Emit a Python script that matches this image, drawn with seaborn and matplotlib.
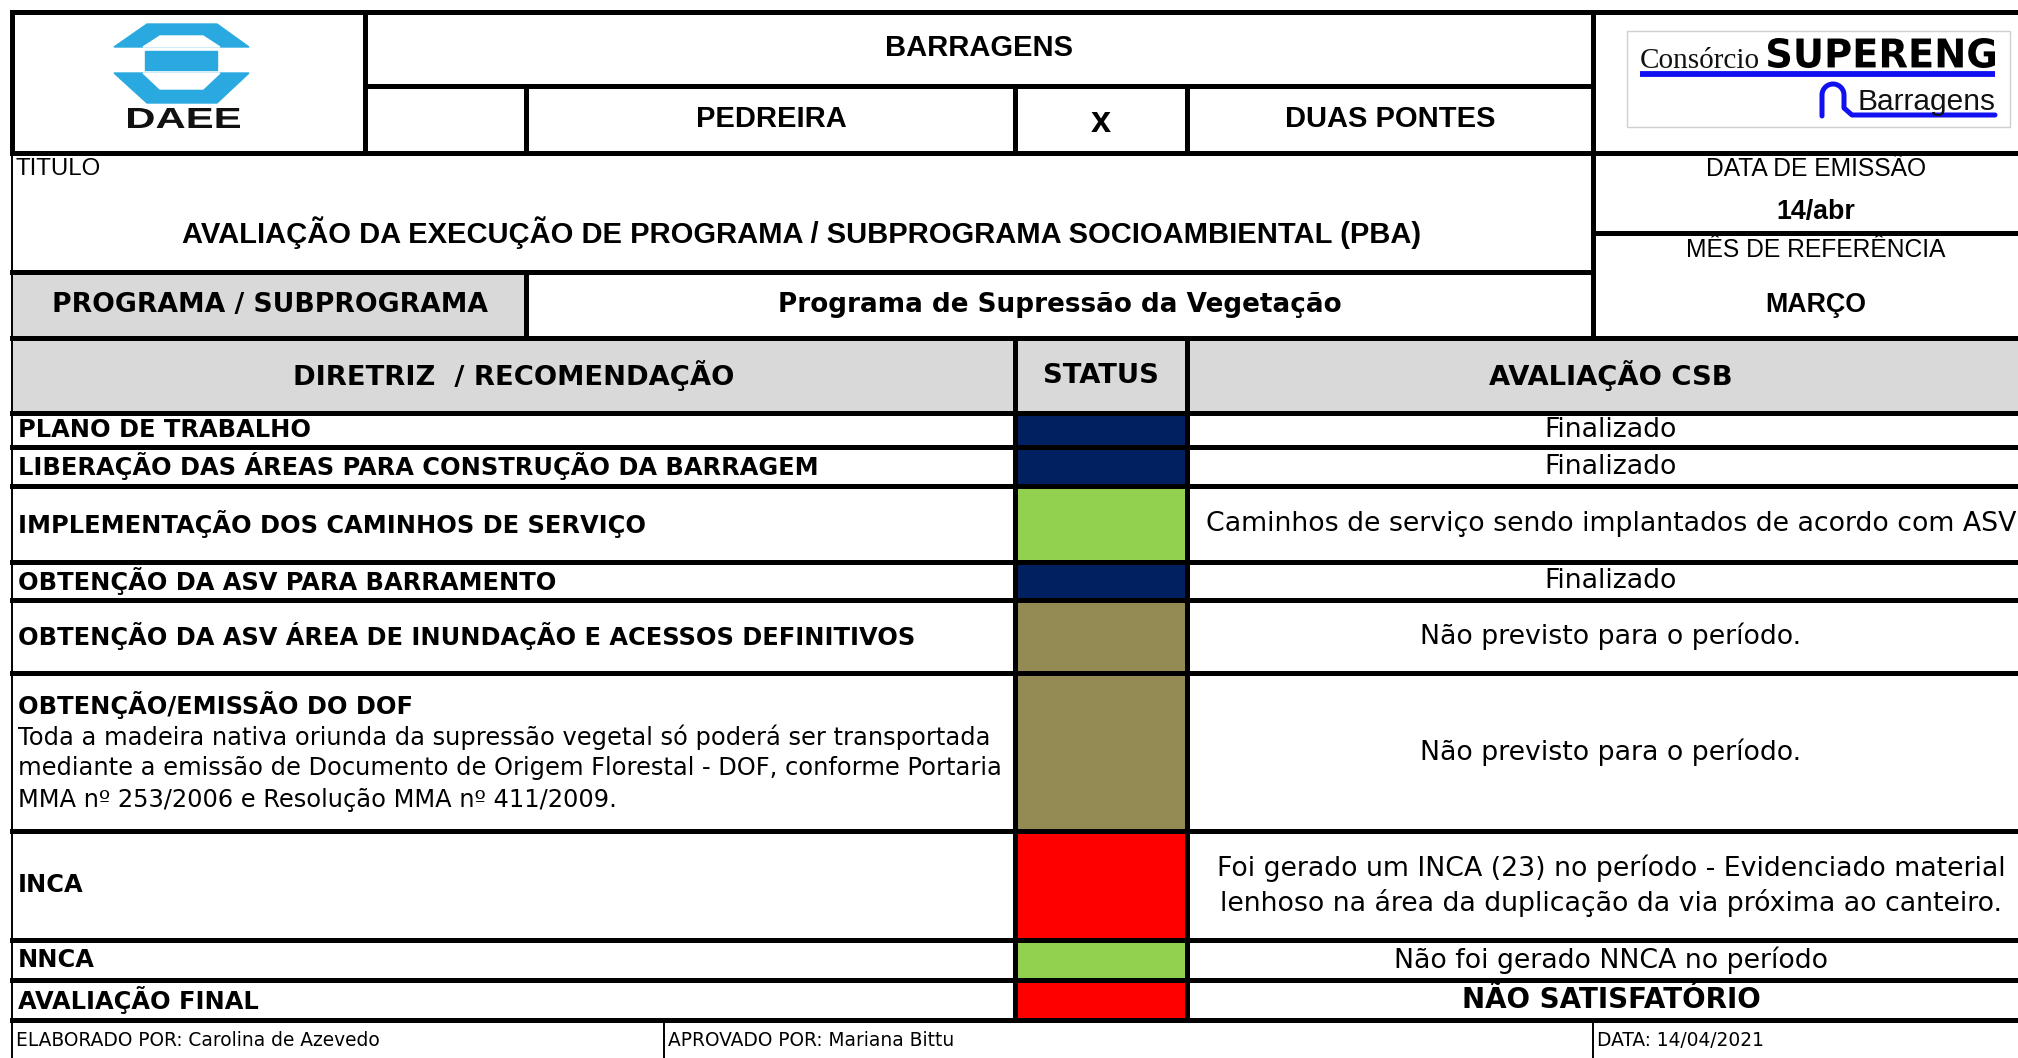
import numpy as np
import matplotlib
matplotlib.use("Agg")
import matplotlib.pyplot as plt
from matplotlib.patches import Polygon, Rectangle, PathPatch
from matplotlib.textpath import TextPath
from matplotlib.font_manager import FontProperties
from matplotlib.transforms import Affine2D
import seaborn as sns

# ---------------- data ----------------
row_labels = [
    "PLANO DE TRABALHO",
    "LIBERAÇÃO DAS ÁREAS PARA CONSTRUÇÃO DA BARRAGEM",
    "IMPLEMENTAÇÃO DOS CAMINHOS DE SERVIÇO",
    "OBTENÇÃO DA ASV PARA BARRAMENTO",
    "OBTENÇÃO DA ASV ÁREA DE INUNDAÇÃO E ACESSOS DEFINITIVOS",
    "OBTENÇÃO/EMISSÃO DO DOF",
    "INCA",
    "NNCA",
    "AVALIAÇÃO FINAL",
]
dof_note = [
    "Toda a madeira nativa oriunda da supressão vegetal só poderá ser transportada",
    "mediante a emissão de Documento de Origem Florestal - DOF, conforme Portaria",
    "MMA nº 253/2006 e Resolução MMA nº 411/2009.",
]
row_status = ["concluido", "concluido", "em_dia", "concluido", "nao_previsto",
              "nao_previsto", "critico", "em_dia", "critico"]
row_eval = [
    "Finalizado",
    "Finalizado",
    "Caminhos de serviço sendo implantados de acordo com ASV",
    "Finalizado",
    "Não previsto para o período.",
    "Não previsto para o período.",
    "Foi gerado um INCA (23) no período - Evidenciado material\nlenhoso na área da duplicação da via próxima ao canteiro.",
    "Não foi gerado NNCA no período",
    "NÃO SATISFATÓRIO",
]
status_colors = {"concluido": "#002060", "em_dia": "#92D050",
                 "nao_previsto": "#948A54", "critico": "#FF0000"}

header_top = "BARRAGENS"
header_left, header_right = "PEDREIRA", "DUAS PONTES"
titulo = "AVALIAÇÃO DA EXECUÇÃO DE PROGRAMA / SUBPROGRAMA SOCIOAMBIENTAL (PBA)"
programa = "Programa de Supressão da Vegetação"
data_emissao, mes_ref = "14/abr", "MARÇO"
footer = ["ELABORADO POR: Carolina de Azevedo", "APROVADO POR: Mariana Bittu", "DATA: 14/04/2021"]

# ---------------- layout (pixels) ----------------
W, H = 2018, 1058
X0, XLOGO, XA, XS0, XS1, XR, XEND = 12, 365, 526, 1015, 1187, 1593, 2035
row_edges = [413, 447, 486, 562, 600, 673, 831, 940, 980, 1020]
XEVAL = 1611
THICK, THIN = 3.6, 1.4

sns.set_theme(style="white")
plt.rcParams["font.family"] = ["DejaVu Sans"]
plt.rcParams["text.color"] = "black"

fig = plt.figure(figsize=(W / 100, H / 100), dpi=100)
ax = fig.add_axes([0, 0, 1, 1])
ax.set_xlim(0, W)
ax.set_ylim(H, 0)
ax.axis("off")

ARIAL = "Liberation Sans"

# gray fills
ax.add_patch(Rectangle((X0, 272), XA - X0, 66, color="#D9D9D9", zorder=0))
ax.add_patch(Rectangle((X0, 338), XEND - X0, 75, color="#D9D9D9", zorder=0))

# status cells
tops = np.array(row_edges[:-1])
heights = np.diff(row_edges)
ax.bar(x=(XS0 + XS1) / 2, height=heights, bottom=tops, width=XS1 - XS0,
       color=[status_colors[s] for s in row_status], align="center", zorder=1)


def hl(y, x0, x1, lw=THICK):
    ax.plot([x0, x1], [y, y], color="black", lw=lw, solid_capstyle="projecting", zorder=3)


def vl(x, y0, y1, lw=THICK):
    ax.plot([x, x], [y0, y1], color="black", lw=lw, solid_capstyle="projecting", zorder=3)


def boxed_text(s, x0, x1, y_top, y_base, prop, color):
    # stretch a text outline to fill a box (used for logo lettering)
    tp = TextPath((0, 0), s, size=1, prop=prop)
    ext = tp.get_extents()
    tr = (Affine2D().translate(-ext.x0, -ext.y0)
          .scale((x1 - x0) / ext.width, -(y_base - y_top) / ext.height)
          .translate(x0, y_base))
    ax.add_patch(PathPatch(tr.transform_path(tp), color=color, lw=0))


# grid lines
hl(12, X0, XEND)
hl(86, XLOGO, XR)
hl(153, X0, XEND)
hl(233, XR, XEND)
hl(272, X0, XR)
hl(338, X0, XEND)
for y in row_edges:
    hl(y, X0, XEND)
vl(X0, 12, 153)
vl(X0, 153, H, THIN)
vl(XLOGO, 12, 153)
vl(XA, 86, 153)
vl(XA, 272, 338)
for x in (XS0, XS1):
    vl(x, 86, 153)
    vl(x, 338, 1020)
vl(XR, 12, 338)
vl(664, 1020, H, THIN)
vl(XR, 1020, H, THIN)

# DAEE logo
blue = "#29A9E0"
ax.add_patch(Polygon([(147, 24), (217, 24), (249, 47), (114, 47)], color=blue))
ax.add_patch(Polygon([(160, 36), (203, 36), (220, 47), (143, 47)], color="white"))
ax.add_patch(Rectangle((145, 51), 72, 19, color=blue))
ax.add_patch(Polygon([(114, 73), (249, 73), (217, 103), (147, 103)], color=blue))
ax.add_patch(Polygon([(143, 73), (220, 73), (203, 89), (160, 89)], color="white"))
boxed_text("DAEE", 128, 240, 108, 128, FontProperties(family=ARIAL, weight="bold"), "#111111")

# SUPERENG logo
ax.add_patch(Rectangle((1627, 31), 383, 96, fill=False, edgecolor="#d0d0d0", lw=1))
ax.text(1640, 68, "Consórcio", ha="left", va="baseline", fontsize=21,
        family="Liberation Serif", color="#111111")
boxed_text("SUPERENG", 1768, 1995, 38, 68, FontProperties(family="DejaVu Sans", weight="bold"), "black")
ax.plot([1640, 1995], [74, 74], color="#1010F0", lw=4.2, solid_capstyle="butt")
ax.text(1995, 110, "Barragens", ha="right", va="baseline", fontsize=21.5,
        family=ARIAL, color="#111111")
t = np.linspace(np.pi, 0, 20)
arc_x = 1833 + 11 * np.cos(t)
arc_y = 95 - 11 * np.sin(t)
cx = np.concatenate([[1822], arc_x, [1844, 1852, 1995]])
cy = np.concatenate([[116], arc_y, [108, 115, 115]])
ax.plot(cx, cy, color="#1010F0", lw=3.6, solid_joinstyle="round")

# header texts
ax.text(979, 48, header_top, ha="center", va="center", fontsize=21, fontweight="bold", family=ARIAL)
ax.text(771, 119, header_left, ha="center", va="center", fontsize=21, fontweight="bold", family=ARIAL)
ax.text(1101, 123, "x", ha="center", va="center", fontsize=26, fontweight="bold", family=ARIAL)
ax.text(1390, 119, header_right, ha="center", va="center", fontsize=21, fontweight="bold", family=ARIAL)
ax.text(16, 169, "TITULO", ha="left", va="center", fontsize=17.3, family=ARIAL)
ax.text(802, 233, titulo, ha="center", va="center", fontsize=21, fontweight="bold", family=ARIAL)
ax.text(1816, 169, "DATA DE EMISSÃO", ha="center", va="center", fontsize=17.7, family=ARIAL)
ax.text(1816, 212, data_emissao, ha="center", va="center", fontsize=19.3, fontweight="bold", family=ARIAL)
ax.text(1816, 250, "MÊS DE REFERÊNCIA", ha="center", va="center", fontsize=17.7, family=ARIAL)
ax.text(1816, 305, mes_ref, ha="center", va="center", fontsize=19.3, fontweight="bold", family=ARIAL)

ax.text(270, 305, "PROGRAMA / SUBPROGRAMA", ha="center", va="center", fontsize=19.2, fontweight="bold")
ax.text(1060, 305, programa, ha="center", va="center", fontsize=18.9, fontweight="bold")
ax.text(514, 376, "DIRETRIZ  / RECOMENDAÇÃO", ha="center", va="center", fontsize=19.7, fontweight="bold")
ax.text(1101, 376, "STATUS", ha="center", va="center", fontsize=19.7, fontweight="bold")
ax.text(XEVAL, 376, "AVALIAÇÃO CSB", ha="center", va="center", fontsize=19.7, fontweight="bold")

# table rows
for i, (lab, ev) in enumerate(zip(row_labels, row_eval)):
    yc = (row_edges[i] + row_edges[i + 1]) / 2
    if lab.startswith("OBTENÇÃO/EMISSÃO"):
        ax.text(18, 705, lab, ha="left", va="center", fontsize=17.4, fontweight="bold")
        for k, line in enumerate(dof_note):
            ax.text(18, 737 + k * 31.5, line, ha="left", va="center", fontsize=17.4)
    else:
        ax.text(18, yc, lab, ha="left", va="center", fontsize=17.4, fontweight="bold")
    bold = ev.isupper()
    ax.text(XEVAL, yc, ev, ha="center", va="center", fontsize=20 if bold else 19.3,
            fontweight="bold" if bold else "normal", linespacing=1.3)

# footer
for x, s in zip((16, 668, 1597), footer):
    ax.text(x, 1040, s, ha="left", va="center", fontsize=13.4)

fig.savefig("out.png", dpi=100)
plt.close(fig)
